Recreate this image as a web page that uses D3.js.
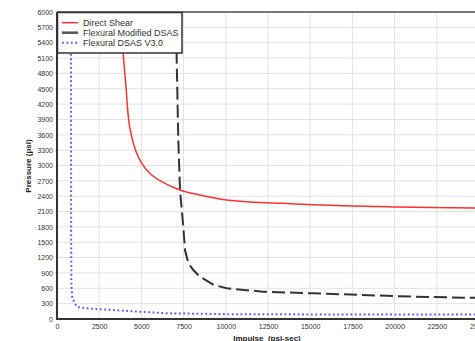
<!DOCTYPE html>
<html><head><meta charset="utf-8">
<script src="https://cdn.jsdelivr.net/npm/d3@7"></script>
<style>
html,body{margin:0;padding:0;background:#fff;overflow:hidden}
text{font-family:"Liberation Sans",Arial,sans-serif}
</style></head>
<body><svg id="c" width="475" height="341"></svg>
<script>
const xTicks = [0,2500,5000,7500,10000,12500,15000,17500,20000,22500,25000];
const yTicks = [0,300,600,900,1200,1500,1800,2100,2400,2700,3000,3300,3600,3900,4200,4500,4800,5100,5400,5700,6000];
const seriesNames = ["Direct Shear","Flexural Modified DSAS","Flexural DSAS V3.0"];

const shearImpulse = [3780,3928,4070,4224,4425,4722,5018,5610,6398,7287,8470,10050,13200,17500,20000,24800,30000];
const shearPressure = [6000,5160,4607,3954,3563,3238,3043,2814,2652,2521,2423,2326,2261,2208,2189,2169,2150];

const modImpulse = [7040,7091,7186,7287,7480,7583,7780,8075,8470,9300,10050,12200,15200,18100,21100,24100,30000];
const modPressure = [6300,5062,3498,2521,1804,1349,1089,958,827,665,600,534,502,469,436,416,400];

const v3Impulse = [815,829,835,850,900,966,1167,1760,2547,4917,6499,10841,15000,20000,25000,30000];
const v3Pressure = [6300,6000,2000,700,436,371,240,209,190,143,111,92,90,88,87,86];

const svg = d3.select("#c");
const L=57, T=12, B=319;
const x = d3.scaleLinear().domain([0,30000]).range([L, L+12*42.2]);
const y = d3.scaleLinear().domain([0,6000]).range([B, T]);
const R = x(30000);

svg.append("defs").append("clipPath").attr("id","clip")
  .append("rect").attr("x",L).attr("y",T).attr("width",R-L).attr("height",B-T);

// grid
const gridX = xTicks.slice(1).concat([27500]);
svg.append("g").selectAll("line").data(gridX).join("line")
  .attr("x1",d=>x(d)).attr("x2",d=>x(d)).attr("y1",T).attr("y2",B)
  .attr("stroke","#e2e2e2").attr("stroke-width",1);
svg.append("g").selectAll("line").data(yTicks.slice(1)).join("line")
  .attr("x1",L).attr("x2",R).attr("y1",d=>y(d)).attr("y2",d=>y(d))
  .attr("stroke","#e2e2e2").attr("stroke-width",1);

// axes
const yAxis = svg.append("g").attr("transform",`translate(${L},0)`)
  .call(d3.axisLeft(y).tickValues(yTicks).tickSize(0).tickPadding(4).tickFormat(d3.format("d")));
yAxis.select(".domain").remove();
yAxis.selectAll("text").attr("font-size","7px").attr("fill","#333");
const xAxis = svg.append("g").attr("transform",`translate(0,${B})`)
  .call(d3.axisBottom(x).tickValues(xTicks).tickSize(0).tickPadding(5).tickFormat(d3.format("d")));
xAxis.select(".domain").remove();
xAxis.selectAll("text").attr("font-size","7px").attr("fill","#333");

const g = svg.append("g").attr("clip-path","url(#clip)");
g.append("path").datum(d3.zip(v3Impulse,v3Pressure)).attr("d",d3.line().x(d=>x(d[0])).y(d=>y(d[1])).curve(d3.curveLinear))
  .attr("fill","none").attr("stroke","#5b5bff").attr("stroke-width",2).attr("stroke-dasharray","1.8,2.6");
g.append("path").datum(d3.zip(modImpulse,modPressure)).attr("d",d3.line().x(d=>x(d[0])).y(d=>y(d[1])).curve(d3.curveLinear))
  .attr("fill","none").attr("stroke","#333").attr("stroke-width",2).attr("stroke-dasharray","13,5");
g.append("path").datum(d3.zip(shearImpulse,shearPressure)).attr("d",d3.line().x(d=>x(d[0])).y(d=>y(d[1])).curve(d3.curveMonotoneX))
  .attr("fill","none").attr("stroke","#ff3030").attr("stroke-width",1.5);

// frame
svg.append("line").attr("x1",L).attr("x2",R).attr("y1",T).attr("y2",T).attr("stroke","#777").attr("stroke-width",2);
svg.append("line").attr("x1",L).attr("x2",L).attr("y1",T).attr("y2",B+1).attr("stroke","#333").attr("stroke-width",2);
svg.append("line").attr("x1",L-1).attr("x2",R).attr("y1",B).attr("y2",B).attr("stroke","#333").attr("stroke-width",2);

// legend
const lg = svg.append("g");
lg.append("rect").attr("x",57.5).attr("y",12.5).attr("width",124.5).attr("height",40.5)
  .attr("fill","#fff").attr("stroke","#333").attr("stroke-width",1.5);
const styles = [{c:"#ff3030",w:1.5,d:null},{c:"#555",w:2.5,d:null},{c:"#5b5bff",w:2,d:"1.8,2.6"}];
seriesNames.forEach((n,i)=>{
  const yy = 22.7 + i*10;
  lg.append("line").attr("x1",62).attr("x2",78).attr("y1",yy).attr("y2",yy)
    .attr("stroke",styles[i].c).attr("stroke-width",styles[i].w).attr("stroke-dasharray",styles[i].d);
  lg.append("text").attr("x",83).attr("y",yy+3.2).attr("font-size","9px").attr("fill","#333").text(n);
});

// titles
svg.append("text").attr("transform","translate(31,166) rotate(-90)").attr("text-anchor","middle")
  .attr("font-size","8px").attr("font-weight","bold").attr("fill","#222").text("Pressure (psi)");
svg.append("text").attr("x",267).attr("y",341).attr("text-anchor","middle")
  .attr("font-size","8px").attr("font-weight","bold").attr("fill","#222").attr("xml:space","preserve").text("Impulse  (psi-sec)");
</script></body></html>
